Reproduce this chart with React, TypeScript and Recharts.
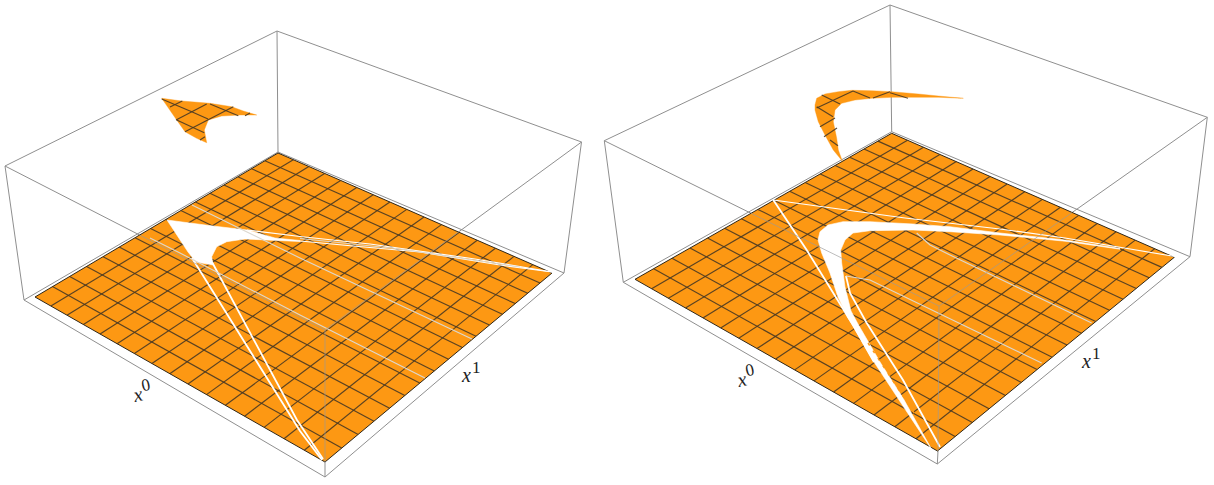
import React from 'react';
import { ScatterChart, Scatter, XAxis, YAxis } from 'recharts';

type Pt = [number, number];

const WIDTH = 1214;
const HEIGHT = 485;
const ORANGE = '#fd9813';
const MESH = '#483823';
const BOX = '#8f8f8f';

// left panel
const leftFloor: Pt[] = [[35, 297], [278, 153], [552, 273], [325, 462]];
const leftEdge0Near: Pt[] = [[50.9, 306], [67, 315.2], [83.4, 324.5], [100.1, 334], [117.1, 343.7], [134.4, 353.5], [151.9, 363.5], [169.8, 373.7], [188, 384], [206.5, 394.6], [225.4, 405.3], [244.6, 416.2], [264.1, 427.4], [284, 438.7], [304.3, 450.2]];
const leftEdge0Far: Pt[] = [[293.3, 159.7], [308.8, 166.5], [324.6, 173.4], [340.6, 180.4], [356.7, 187.5], [373.2, 194.7], [389.9, 202], [406.8, 209.4], [424, 217], [441.5, 224.6], [459.2, 232.4], [477.2, 240.2], [495.4, 248.2], [514, 256.4], [532.8, 264.6]];
const leftEdge1Near: Pt[] = [[341.7, 448.1], [358.1, 434.5], [374, 421.2], [389.6, 408.2], [404.8, 395.5], [419.7, 383.1], [434.3, 371], [448.5, 359.2], [462.4, 347.6], [476, 336.2], [489.4, 325.1], [502.4, 314.3], [515.2, 303.6], [527.7, 293.2], [540, 283]];
const leftEdge1Far: Pt[] = [[52.5, 286.6], [69.7, 276.4], [86.6, 266.4], [103.1, 256.7], [119.2, 247.1], [135.1, 237.7], [150.6, 228.5], [165.9, 219.4], [180.9, 210.6], [195.5, 201.9], [209.9, 193.3], [224, 185], [237.9, 176.8], [251.5, 168.7], [264.9, 160.8]];
const leftBoxOuter: Pt[][] = [
  [[24, 300], [5, 166], [277, 31], [581.5, 142], [564, 273], [325, 477], [24, 300]],
  [[277, 31], [278, 152]],
  [[24, 300], [278, 152], [564, 273]],
  [[5, 166], [139.6, 235]],
  [[581.5, 142], [458.5, 232]],
  [[325, 462], [325, 477]],
];
const leftBoxOverFloor: Pt[][] = [
  [[139.6, 235], [325, 330], [458.5, 232]],
  [[325, 330], [325, 462]],
];
const leftHole: Pt[] = [[167, 220], [213, 226], [247, 230], [275, 238], [300, 240.5], [300, 241.5], [245, 239], [226.7, 241.7], [216.7, 246.7], [211.7, 256.7], [213, 265], [196, 262], [188, 252]];
const leftSlits: Pt[][] = [
  [[192, 258], [300, 431], [322, 460]],
  [[212, 262], [297, 420], [323, 459]],
];
const leftThinSlits: Pt[][] = [
  [[247, 230], [300, 236.5], [370, 244], [475, 259], [552, 272]],
  [[300, 241], [353, 246], [420, 252], [500, 265], [552, 272]],
];
const leftFaintSlits: Pt[][] = [
  [[192, 205], [247, 232], [300, 258], [472, 339]],
  [[150, 238], [180, 253], [300, 315], [425, 378]],
  [[300, 238.5], [400, 249], [520, 267]],
];
const leftPatch: Pt[] = [[161.7, 98.3], [181.7, 101], [210, 103.3], [231.7, 106.7], [243.3, 111], [256.7, 115], [240, 115], [221.7, 116], [208.3, 120], [204.3, 130], [206.7, 142.7], [196.7, 138.3], [185, 131.7], [176.7, 120]];
const leftPatchMesh: Pt[][] = [
  [[161.7, 99], [191.7, 111.7], [208, 119]],
  [[182.3, 101], [170, 107]],
  [[206.7, 104], [176, 120]],
  [[233.3, 106.7], [185, 131.7]],
  [[250, 113], [245, 115.7]],
  [[210, 104], [238.3, 115.7]],
  [[176.7, 120], [204.3, 132.7]],
  [[205, 136.7], [200, 140]],
];

// right panel
const rightFloor: Pt[] = [[635, 279.3], [891.7, 133.3], [1174.3, 257.3], [937.5, 451]];
const rightEdge0Near: Pt[] = [[651.6, 288.7], [668.4, 298.3], [685.5, 308], [702.9, 317.9], [720.7, 327.9], [738.7, 338.2], [757, 348.6], [775.7, 359.1], [794.7, 369.9], [814, 380.9], [833.6, 392], [853.6, 403.4], [874, 415], [894.8, 426.8], [916, 438.8]];
const rightEdge0Far: Pt[] = [[907.5, 140.2], [923.5, 147.3], [939.8, 154.4], [956.3, 161.6], [973, 169], [990, 176.4], [1007.2, 184], [1024.7, 191.7], [1042.4, 199.4], [1060.4, 207.3], [1078.7, 215.4], [1097.2, 223.5], [1116.1, 231.8], [1135.2, 240.1], [1154.6, 248.7]];
const rightEdge1Near: Pt[] = [[955.1, 436.6], [972.3, 422.5], [989.1, 408.8], [1005.5, 395.4], [1021.4, 382.4], [1037, 369.6], [1052.2, 357.2], [1067, 345], [1081.5, 333.2], [1095.7, 321.6], [1109.5, 310.3], [1123.1, 299.2], [1136.3, 288.4], [1149.2, 277.8], [1161.9, 267.4]];
const rightEdge1Far: Pt[] = [[653.7, 268.7], [672, 258.2], [690, 248], [707.5, 238.1], [724.6, 228.3], [741.4, 218.8], [757.9, 209.4], [774, 200.3], [789.7, 191.3], [805.2, 182.5], [820.3, 173.9], [835.2, 165.4], [849.7, 157.2], [864, 149.1], [878, 141.1]];
const rightBoxOuter: Pt[][] = [
  [[623.3, 282.3], [604.3, 140.7], [890, 5], [1207.3, 117.3], [1190, 256.7], [937.3, 464], [623.3, 282.3]],
  [[890, 5], [891.7, 131.7]],
  [[623.3, 282.3], [891.7, 131.7], [1190, 256.7]],
  [[604.3, 140.7], [751.1, 213.3]],
  [[1207.3, 117.3], [1072, 212.6]],
  [[938, 451], [937.3, 464]],
];
const rightBoxOverFloor: Pt[][] = [
  [[751.1, 213.3], [939, 306], [1072, 212.6]],
  [[939, 306], [938, 451]],
];
const rightHole: Pt[] = [[1120, 248.5], [1065, 240], [1000, 233], [950, 226.7], [913, 224], [870, 221.7], [843, 221.7], [828, 225], [820, 231.7], [818, 240], [821.7, 253], [830, 273], [838, 297], [848, 318], [853, 326], [874, 362], [932, 450], [903, 398], [880, 362], [858, 324], [851, 311], [845, 287], [841.7, 263], [840.7, 250], [845, 240], [853, 233], [870, 230.7], [913, 230], [950, 231.7], [1000, 235], [1065, 241.2], [1120, 249.2]];
const rightSlits: Pt[][] = [
  [[773.3, 200], [806.7, 250], [853, 325], [874, 362]],
  [[846, 276], [850, 293], [866.7, 323], [903, 380], [940, 447]],
];
const rightThinSlits: Pt[][] = [
  [[773.3, 200], [905, 218], [1000, 229], [1065, 238], [1175, 256.5]],
];
const rightFaintSlits: Pt[][] = [
  [[846, 276], [870, 280], [905, 297], [1041.7, 363]],
  [[916.7, 233], [930, 245], [950, 255], [1091.7, 323]],
];
const rightDots: Pt[] = [[868, 343], [920, 422]];
const rightPatch: Pt[] = [[815, 105], [816.7, 98.3], [825, 94], [838.3, 91.7], [851.7, 90.3], [871.7, 90.7], [891.7, 91.7], [918.3, 94], [938.3, 96], [963.3, 98.3], [938.3, 97.3], [911.7, 97.3], [891.7, 97.3], [871.7, 98.3], [855, 100], [841.7, 103.3], [835, 110], [833.3, 121.7], [836.7, 138.3], [838.3, 150], [842.3, 161], [833.3, 150], [825, 135], [818.3, 121.7], [815, 110]];
const rightPatchMesh: Pt[][] = [
  [[821.7, 95], [840, 104]],
  [[816.7, 106.7], [833, 116.7]],
  [[853, 91], [870, 98]],
  [[853, 91], [816.7, 108]],
  [[873, 98], [890, 91.7]],
  [[890, 92.7], [908, 98.3]],
  [[820, 126.7], [835, 118]],
  [[824, 136.7], [837, 128]],
  [[830, 140], [838, 145.7]],
];

const axisLabels = [
  { x: 135, y: 402, text: 'x', sup: '0', angle: -12 },
  { x: 462, y: 382, text: 'x', sup: '1', angle: 0 },
  { x: 739, y: 387, text: 'x', sup: '0', angle: -12 },
  { x: 1082, y: 368, text: 'x', sup: '1', angle: 0 },
];

const toRows = (pts: Pt[]) => pts.map(([x, y]) => ({ x, y }));
const noDot = () => <g />;

// a scatter series whose joint line is drawn as a polyline or a filled polygon
const poly = (key: string, pts: Pt[], style: any, closed = false) => {
  const drawLine = (props: any) => {
    const d = props.points
      .map((p: any, i: number) => (i === 0 ? 'M' : 'L') + p.x + ' ' + p.y)
      .join(' ');
    return <path d={closed ? d + ' Z' : d} fill="none" {...style} />;
  };
  return (
    <Scatter
      key={key}
      data={toRows(pts)}
      dataKey="y"
      shape={noDot}
      line={drawLine}
      isAnimationActive={false}
    />
  );
};

const meshLines = (key: string, near: Pt[], far: Pt[]) =>
  near.map((p, i) =>
    poly(key + i, [p, far[i]], { stroke: MESH, strokeWidth: 1.15, strokeOpacity: 0.9 })
  );

const AxisName = (props: any) => {
  const { cx, cy, payload } = props;
  return (
    <text
      x={cx}
      y={cy}
      transform={`rotate(${payload.angle} ${cx} ${cy})`}
      fontFamily="Liberation Serif"
      fill="#222"
    >
      <tspan fontSize={20} fontStyle="italic">{payload.text}</tspan>
      <tspan fontSize={17} dy={-9} dx={1}>{payload.sup}</tspan>
    </text>
  );
};

const panel = (
  key: string,
  floor: Pt[],
  near0: Pt[],
  far0: Pt[],
  near1: Pt[],
  far1: Pt[],
  boxOuter: Pt[][],
  boxOverFloor: Pt[][],
  hole: Pt[],
  slits: Pt[][],
  thinSlits: Pt[][],
  faintSlits: Pt[][],
  patch: Pt[],
  patchMesh: Pt[][]
) => [
  ...boxOuter.map((l, i) => poly(key + 'box' + i, l, { stroke: BOX, strokeWidth: 1 })),
  poly(key + 'floor', floor, { fill: ORANGE, stroke: '#2e2618', strokeWidth: 1 }, true),
  ...meshLines(key + 'a', near0, far0),
  ...meshLines(key + 'b', near1, far1),
  poly(key + 'hole', hole, { fill: '#fff', stroke: '#fff', strokeWidth: 0.6 }, true),
  ...slits.map((l, i) => poly(key + 'slit' + i, l, { stroke: '#fff', strokeWidth: 1.8 })),
  ...thinSlits.map((l, i) => poly(key + 'thin' + i, l, { stroke: '#fff', strokeWidth: 1.2 })),
  ...faintSlits.map((l, i) => poly(key + 'faint' + i, l, { stroke: '#dcd8cf', strokeWidth: 1.1 })),
  poly(key + 'patch', patch, { fill: ORANGE, stroke: ORANGE, strokeWidth: 0.4 }, true),
  ...patchMesh.map((l, i) => poly(key + 'pm' + i, l, { stroke: MESH, strokeWidth: 1.15, strokeOpacity: 0.9 })),
  ...boxOverFloor.map((l, i) => poly(key + 'front' + i, l, { stroke: '#9a9a9a', strokeWidth: 1, strokeOpacity: 0.65 })),
];

export default function App() {
  return (
    <div style={{ position: 'absolute', left: 0, top: 0, background: '#fff' }}>
      <ScatterChart width={WIDTH} height={HEIGHT} margin={{ top: 0, right: 0, bottom: 0, left: 0 }}>
        <XAxis type="number" dataKey="x" domain={[0, WIDTH]} hide />
        <YAxis type="number" dataKey="y" domain={[0, HEIGHT]} reversed hide />
        {panel('l', leftFloor, leftEdge0Near, leftEdge0Far, leftEdge1Near, leftEdge1Far, leftBoxOuter, leftBoxOverFloor, leftHole, leftSlits, leftThinSlits, leftFaintSlits, leftPatch, leftPatchMesh)}
        {panel('r', rightFloor, rightEdge0Near, rightEdge0Far, rightEdge1Near, rightEdge1Far, rightBoxOuter, rightBoxOverFloor, rightHole, rightSlits, rightThinSlits, rightFaintSlits, rightPatch, rightPatchMesh)}
        {poly('rdots', rightDots, { stroke: ORANGE, strokeWidth: 1.4, strokeDasharray: '3 6' })}
        <Scatter data={axisLabels} dataKey="y" shape={AxisName} isAnimationActive={false} />
      </ScatterChart>
    </div>
  );
}
